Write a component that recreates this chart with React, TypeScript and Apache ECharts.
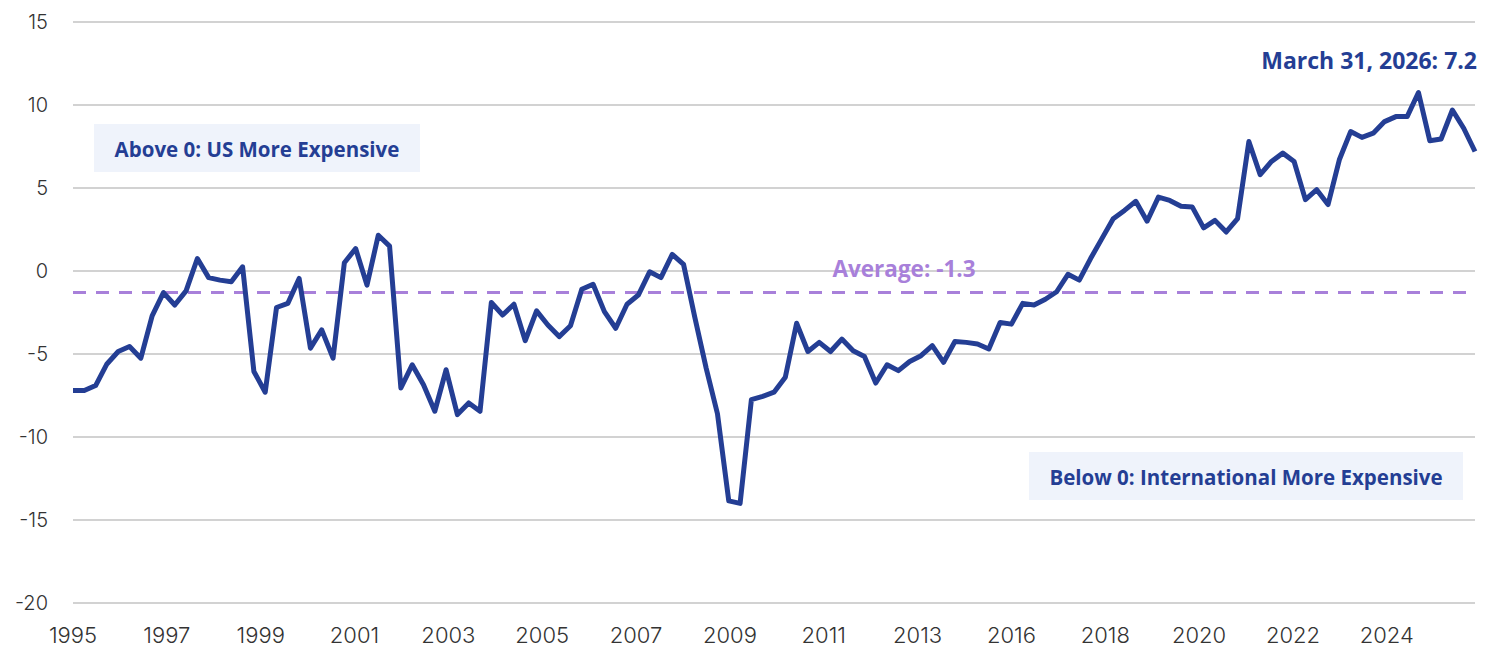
import React, { useEffect, useRef } from "react";
import * as echarts from "echarts";

// Quarterly values, 1995 Q1 .. 2026 Q1
const values: number[] = [
  -7.2, -7.2, -6.9, -5.6, -4.85, -4.55, -5.25, -2.7, -1.3, -2.05,
  -1.2, 0.75, -0.4, -0.55, -0.65, 0.25, -6.05, -7.3, -2.2, -1.95,
  -0.45, -4.65, -3.55, -5.25, 0.5, 1.35, -0.85, 2.15, 1.5, -7.05,
  -5.65, -6.85, -8.45, -5.95, -8.65, -7.95, -8.45, -1.9, -2.65, -2.0,
  -4.2, -2.4, -3.25, -3.95, -3.3, -1.1, -0.8, -2.45, -3.45, -2.0,
  -1.45, -0.05, -0.4, 1.0, 0.4, -2.8, -5.85, -8.6, -13.85, -14.0,
  -7.75, -7.55, -7.3, -6.4, -3.15, -4.85, -4.3, -4.85, -4.1, -4.8,
  -5.15, -6.75, -5.65, -6.0, -5.45, -5.1, -4.5, -5.5, -4.25, -4.3,
  -4.4, -4.7, -3.1, -3.2, -1.95, -2.05, -1.7, -1.25, -0.2, -0.55,
  0.75, 1.95, 3.15, 3.65, 4.2, 3.0, 4.45, 4.25, 3.9, 3.85,
  2.6, 3.05, 2.35, 3.15, 7.8, 5.8, 6.6, 7.1, 6.6, 4.3,
  4.9, 4.0, 6.7, 8.4, 8.05, 8.3, 9.0, 9.3, 9.3, 10.75,
  7.85, 7.95, 9.7, 8.6, 7.2,
];

const tickLabels: string[] = [
  "1995", "1997", "1999", "2001", "2003", "2005", "2007", "2009",
  "2011", "2013", "2016", "2018", "2020", "2022", "2024",
];

const average = -1.3;
const latestLabel = "March 31, 2026: 7.2";
const aboveLabel = "Above 0: US More Expensive";
const belowLabel = "Below 0: International More Expensive";

const LABEL_STEP = 8.3;

export default function App() {
  const ref = useRef<HTMLDivElement>(null);

  useEffect(() => {
    if (!ref.current) return;
    const chart = echarts.init(ref.current, null, { renderer: "svg" });
    const seriesData = values.map((v, i) => [i, v]);
    const boldFont = "'Open Sans', sans-serif";
    const navy = "#243e94";
    const purple = "#a880da";
    chart.setOption({
      animation: false,
      backgroundColor: "#ffffff",
      grid: {
        left: 73,
        right: 21,
        top: 22,
        bottom: 47,
        containLabel: false,
        outerBoundsMode: "none",
      },
      xAxis: {
        type: "value",
        min: 0,
        max: values.length - 1,
        interval: LABEL_STEP,
        axisLine: { show: false },
        axisTick: { show: false },
        splitLine: { show: false },
        axisLabel: {
          showMaxLabel: false,
          margin: 21,
          fontFamily: "Inter, sans-serif",
          fontWeight: 300,
          fontSize: 22,
          color: "#333333",
          formatter: (v: number) => {
            const k = Math.round(v / LABEL_STEP);
            if (Math.abs(k * LABEL_STEP - v) > 0.01) return "";
            return tickLabels[k] ?? "";
          },
        },
      },
      yAxis: {
        type: "value",
        min: -20,
        max: 15,
        interval: 5,
        axisLine: { show: false },
        axisTick: { show: false },
        splitLine: { lineStyle: { color: "#d2d2d2", width: 2 } },
        axisLabel: {
          margin: 25,
          fontFamily: "Inter, sans-serif",
          fontWeight: 300,
          fontSize: 20,
          color: "#333333",
        },
      },
      series: [
        {
          type: "line",
          data: seriesData,
          symbol: "none",
          lineStyle: { color: navy, width: 5, join: "round" },
          z: 3,
          markLine: {
            silent: true,
            symbol: ["none", "none"],
            label: { show: false },
            lineStyle: { color: purple, type: [13, 10], width: 3 },
            data: [{ yAxis: average }],
            z: 2,
          },
        },
      ],
      graphic: [
        {
          type: "rect",
          shape: { x: 94, y: 124, width: 326, height: 48 },
          style: { fill: "#eff3fb" },
          z: 10,
        },
        {
          type: "text",
          x: 257,
          y: 149,
          style: {
            text: aboveLabel,
            fill: navy,
            font: `700 20.5px ${boldFont}`,
            textAlign: "center",
            textVerticalAlign: "middle",
          },
          z: 11,
        },
        {
          type: "rect",
          shape: { x: 1029, y: 452, width: 434, height: 48 },
          style: { fill: "#eff3fb" },
          z: 10,
        },
        {
          type: "text",
          x: 1246,
          y: 477,
          style: {
            text: belowLabel,
            fill: navy,
            font: `700 20.5px ${boldFont}`,
            textAlign: "center",
            textVerticalAlign: "middle",
          },
          z: 11,
        },
        {
          type: "text",
          x: 1477,
          y: 60,
          style: {
            text: latestLabel,
            fill: navy,
            font: `700 23px ${boldFont}`,
            textAlign: "right",
            textVerticalAlign: "middle",
          },
          z: 11,
        },
        {
          type: "text",
          x: 904,
          y: 268,
          style: {
            text: `Average: ${average}`,
            fill: purple,
            font: `700 22.5px ${boldFont}`,
            textAlign: "center",
            textVerticalAlign: "middle",
          },
          z: 11,
        },
      ],
    });
    return () => chart.dispose();
  }, []);

  return (
    <div
      ref={ref}
      style={{ position: "fixed", left: 0, top: 0, width: 1496, height: 650 }}
    />
  );
}
